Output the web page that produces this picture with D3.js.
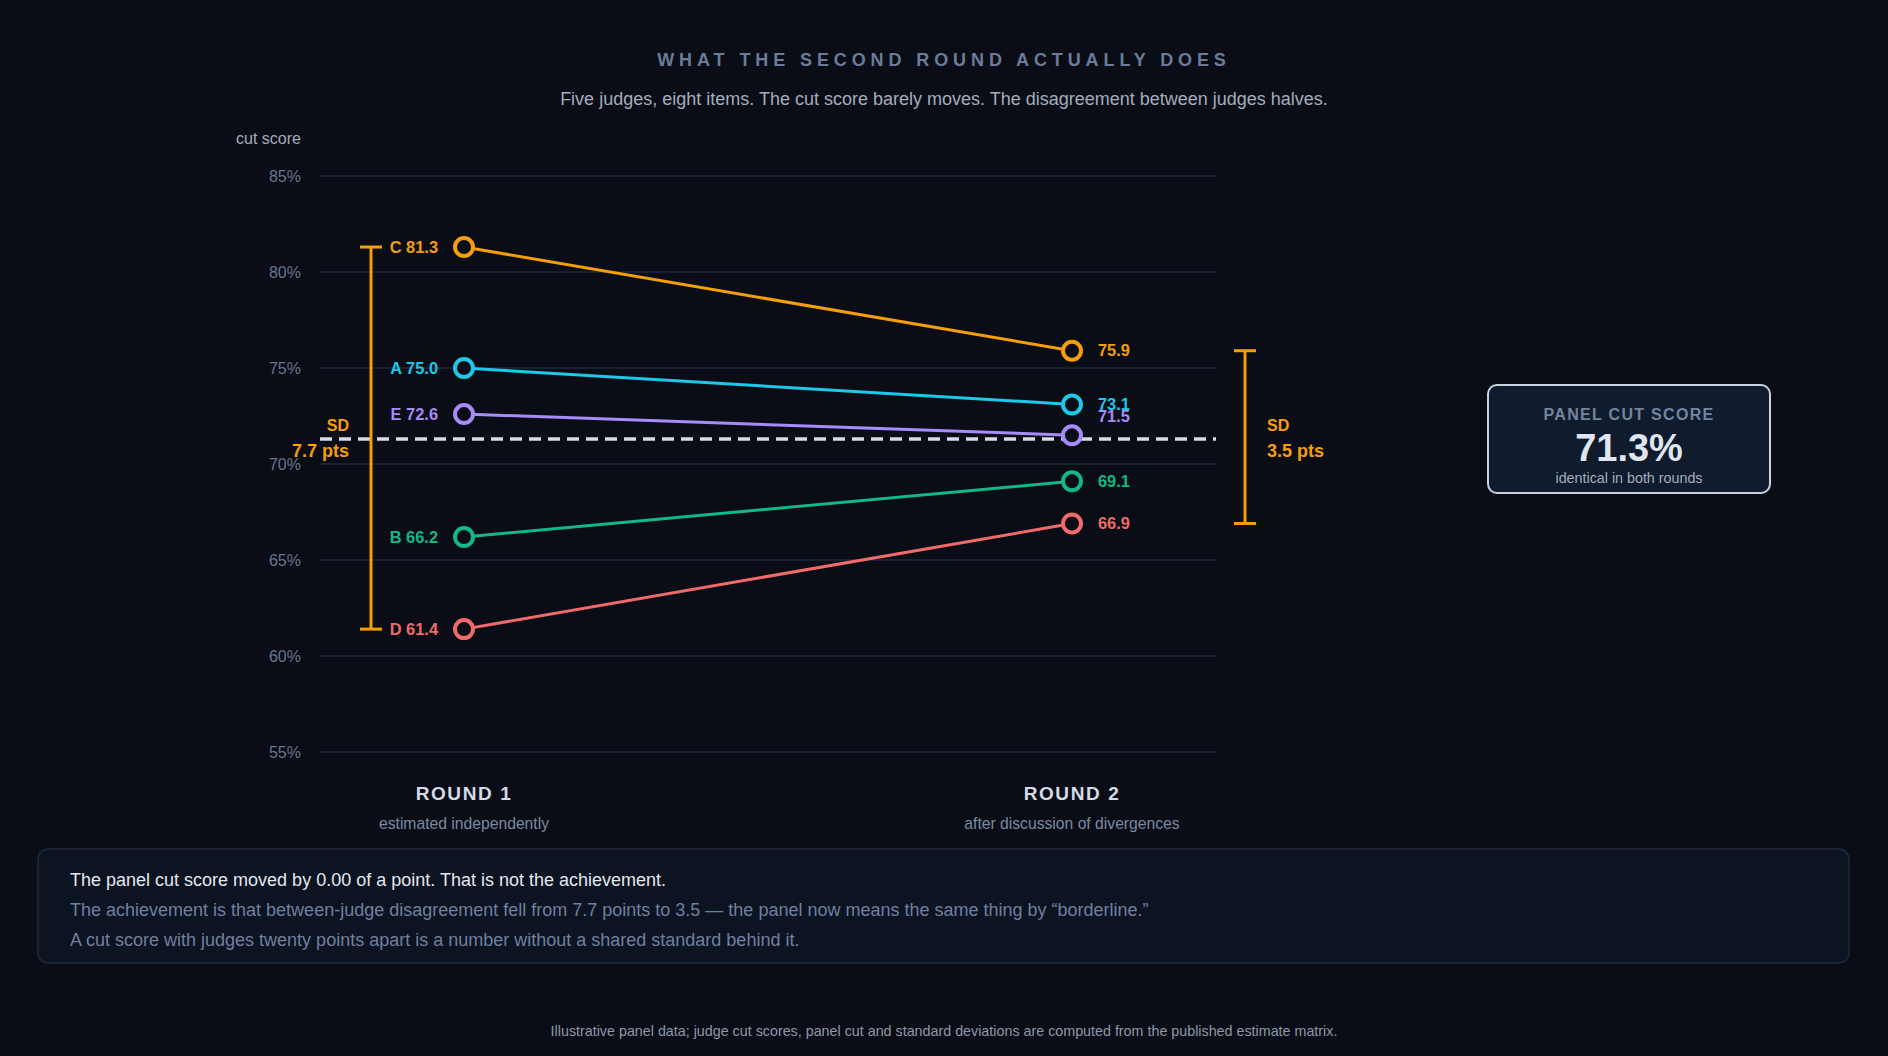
<!DOCTYPE html>
<html>
<head>
  <meta charset="utf-8">
  <script src="https://d3js.org/d3.v7.min.js"></script>
  <style>
    html, body {
      margin: 0;
      padding: 0;
      background: #0a0d15;
    }
    svg text {
      font-family: "Liberation Sans", Arial, Helvetica, sans-serif;
    }
    .grid line {
      stroke: #1e293b;
      stroke-width: 1.5;
    }
    .tick-label {
      fill: #67768f;
      font-size: 16px;
    }
  </style>
</head>
<body>
  <svg class="chart"></svg>
  <script>
    // judges and their cut scores (percent) per round
    var judges = ['A', 'B', 'C', 'D', 'E'];
    var round1 = [75.0, 66.2, 81.3, 61.4, 72.6];
    var round2 = [73.1, 69.1, 75.9, 66.9, 71.5];
    var judgeColors = ['#1ec8e8', '#12b886', '#f59e0b', '#f06a6a', '#a78bfa'];

    var rounds = ['ROUND 1', 'ROUND 2'];
    var roundNotes = ['estimated independently', 'after discussion of divergences'];
    var roundSD = [7.7, 3.5];
    var panelCut = 71.3;

    var yTicks = [55, 60, 65, 70, 75, 80, 85];

    var noteLines = [
      'The panel cut score moved by 0.00 of a point. That is not the achievement.',
      'The achievement is that between-judge disagreement fell from 7.7 points to 3.5 \u2014 the panel now means the same thing by \u201cborderline.\u201d',
      'A cut score with judges twenty points apart is a number without a shared standard behind it.'
    ];

    var W = 1888, H = 1056;
    var plot = { left: 320, right: 1216, top: 176, bottom: 752 };
    var orange = '#f59e0b';

    var svg = d3.select('.chart')
      .attr('width', W)
      .attr('height', H);

    var x = d3.scalePoint()
      .domain(rounds)
      .range([464, 1072]);

    var y = d3.scaleLinear()
      .domain([55, 85])
      .range([plot.bottom, plot.top]);

    // title block
    svg.append('text')
      .attr('x', W / 2).attr('y', 66)
      .attr('text-anchor', 'middle')
      .style('font-size', '18px').style('font-weight', 'bold')
      .style('letter-spacing', '4.9px')
      .style('fill', '#6a7c99')
      .text('WHAT THE SECOND ROUND ACTUALLY DOES');

    svg.append('text')
      .attr('x', W / 2).attr('y', 105)
      .attr('text-anchor', 'middle')
      .style('font-size', '18px')
      .style('fill', '#a3aebd')
      .text('Five judges, eight items. The cut score barely moves. The disagreement between judges halves.');

    // y axis: gridlines + labels
    var grid = svg.append('g').attr('class', 'grid');
    grid.selectAll('line')
      .data(yTicks)
      .enter()
      .append('line')
      .attr('x1', plot.left).attr('x2', plot.right)
      .attr('y1', function (d) { return y(d); })
      .attr('y2', function (d) { return y(d); });

    svg.selectAll('.tick-label')
      .data(yTicks)
      .enter()
      .append('text')
      .attr('class', 'tick-label')
      .attr('x', 301)
      .attr('y', function (d) { return y(d); })
      .attr('dy', '0.35em')
      .attr('text-anchor', 'end')
      .text(function (d) { return d + '%'; });

    svg.append('text')
      .attr('x', 301).attr('y', 144)
      .attr('text-anchor', 'end')
      .style('font-size', '16px')
      .style('fill', '#a4adbb')
      .text('cut score');

    // panel cut (dashed)
    var yCut = y(panelCut);
    svg.append('line')
      .attr('x1', plot.left).attr('x2', plot.right)
      .attr('y1', yCut).attr('y2', yCut)
      .style('stroke', '#d5dce8')
      .style('stroke-width', 3.5)
      .style('stroke-dasharray', '12 7');

    // range bars beside each round
    var bars = [
      { values: round1, bx: x(rounds[0]) - 93, side: -1, sd: roundSD[0] },
      { values: round2, bx: x(rounds[1]) + 173, side: 1, sd: roundSD[1] }
    ];
    bars.forEach(function (b) {
      var ext = d3.extent(b.values);
      var g = svg.append('g').style('stroke', orange).style('stroke-width', 3);
      g.append('line')
        .attr('x1', b.bx).attr('x2', b.bx)
        .attr('y1', y(ext[1])).attr('y2', y(ext[0]));
      [ext[0], ext[1]].forEach(function (v) {
        g.append('line')
          .attr('x1', b.bx - 11).attr('x2', b.bx + 11)
          .attr('y1', y(v)).attr('y2', y(v));
      });
      var tx = b.bx + b.side * 22;
      var anchor = b.side < 0 ? 'end' : 'start';
      svg.append('text')
        .attr('x', tx).attr('y', yCut - 8)
        .attr('text-anchor', anchor)
        .style('font-size', '16px').style('font-weight', 'bold')
        .style('fill', orange)
        .text('SD');
      svg.append('text')
        .attr('x', tx).attr('y', yCut + 18)
        .attr('text-anchor', anchor)
        .style('font-size', '18px').style('font-weight', 'bold')
        .style('fill', orange)
        .text(b.sd.toFixed(1) + ' pts');
    });

    // judge slopes
    var data = judges.map(function (j, i) {
      return { judge: j, r1: round1[i], r2: round2[i], color: judgeColors[i] };
    });

    svg.selectAll('.slope')
      .data(data)
      .enter()
      .append('line')
      .attr('class', 'slope')
      .attr('x1', x(rounds[0])).attr('x2', x(rounds[1]))
      .attr('y1', function (d) { return y(d.r1); })
      .attr('y2', function (d) { return y(d.r2); })
      .style('stroke', function (d) { return d.color; })
      .style('stroke-width', 3);

    rounds.forEach(function (r, k) {
      svg.selectAll('.dot-' + k)
        .data(data)
        .enter()
        .append('circle')
        .attr('class', 'dot-' + k)
        .attr('cx', x(r))
        .attr('cy', function (d) { return y(k === 0 ? d.r1 : d.r2); })
        .attr('r', 9)
        .style('fill', '#0a0d15')
        .style('stroke', function (d) { return d.color; })
        .style('stroke-width', 4);
    });

    // value labels; keep them off the dashed cut line and apart from each other
    function labelY(values) {
      var items = values.map(function (v, i) {
        var ly = y(v);
        if (Math.abs(ly - yCut) < 20) ly = yCut - 23;
        return { i: i, ly: ly };
      });
      items.sort(function (a, b) { return b.ly - a.ly; });
      for (var n = 1; n < items.length; n++) {
        if (items[n - 1].ly - items[n].ly < 12) items[n].ly = items[n - 1].ly - 12;
      }
      var out = [];
      items.forEach(function (it) { out[it.i] = it.ly; });
      return out;
    }
    var ly1 = labelY(round1);
    var ly2 = labelY(round2);

    svg.selectAll('.lab1')
      .data(data)
      .enter()
      .append('text')
      .attr('class', 'lab1')
      .attr('x', x(rounds[0]) - 26)
      .attr('y', function (d, i) { return ly1[i]; })
      .attr('dy', '0.35em')
      .attr('text-anchor', 'end')
      .style('font-size', '16.4px').style('font-weight', 'bold')
      .style('fill', function (d) { return d.color; })
      .text(function (d) { return d.judge + ' ' + d.r1.toFixed(1); });

    svg.selectAll('.lab2')
      .data(data)
      .enter()
      .append('text')
      .attr('class', 'lab2')
      .attr('x', x(rounds[1]) + 26)
      .attr('y', function (d, i) { return ly2[i]; })
      .attr('dy', '0.35em')
      .style('font-size', '16.4px').style('font-weight', 'bold')
      .style('fill', function (d) { return d.color; })
      .text(function (d) { return d.r2.toFixed(1); });

    // round captions
    rounds.forEach(function (r, k) {
      svg.append('text')
        .attr('x', x(r)).attr('y', 800)
        .attr('text-anchor', 'middle')
        .style('font-size', '19px').style('font-weight', 'bold')
        .style('letter-spacing', '1.6px')
        .style('fill', '#d3dbe7')
        .text(r);
      svg.append('text')
        .attr('x', x(r)).attr('y', 829)
        .attr('text-anchor', 'middle')
        .style('font-size', '15.7px')
        .style('fill', '#7b8aa2')
        .text(roundNotes[k]);
    });

    // panel cut score card
    var card = svg.append('g').attr('transform', 'translate(1488,385)');
    card.append('rect')
      .attr('width', 282).attr('height', 108)
      .attr('rx', 9)
      .style('fill', '#101b2e')
      .style('stroke', '#c9d2df')
      .style('stroke-width', 2);
    card.append('text')
      .attr('x', 141).attr('y', 35)
      .attr('text-anchor', 'middle')
      .style('font-size', '16px').style('font-weight', 'bold')
      .style('letter-spacing', '1.3px')
      .style('fill', '#73849e')
      .text('PANEL CUT SCORE');
    card.append('text')
      .attr('x', 141).attr('y', 76)
      .attr('text-anchor', 'middle')
      .style('font-size', '38px').style('font-weight', 'bold')
      .style('fill', '#dfe6f0')
      .text(panelCut.toFixed(1) + '%');
    card.append('text')
      .attr('x', 141).attr('y', 98)
      .attr('text-anchor', 'middle')
      .style('font-size', '14.3px')
      .style('fill', '#a3aebd')
      .text('identical in both rounds');

    // takeaway box
    var note = svg.append('g').attr('transform', 'translate(38,849)');
    note.append('rect')
      .attr('width', 1811).attr('height', 114)
      .attr('rx', 10)
      .style('fill', '#0c1321')
      .style('stroke', '#1d2a40')
      .style('stroke-width', 1.5);
    note.selectAll('text')
      .data(noteLines)
      .enter()
      .append('text')
      .attr('x', 32)
      .attr('y', function (d, i) { return 37 + i * 30; })
      .style('font-size', '18px')
      .style('fill', function (d, i) { return i === 0 ? '#e3e8ef' : '#6f80a0'; })
      .text(function (d) { return d; });

    svg.append('text')
      .attr('x', W / 2).attr('y', 1036)
      .attr('text-anchor', 'middle')
      .style('font-size', '14.3px')
      .style('fill', '#8e98a8')
      .text('Illustrative panel data; judge cut scores, panel cut and standard deviations are computed from the published estimate matrix.');
  </script>
</body>
</html>
